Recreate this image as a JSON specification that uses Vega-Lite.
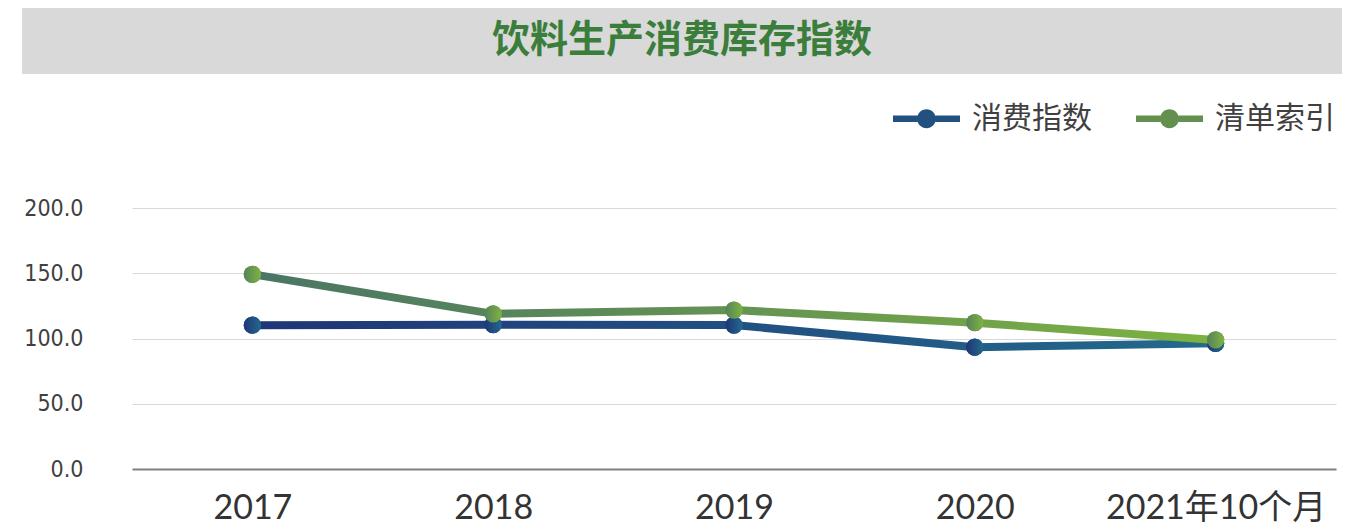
{
  "$schema": "https://vega.github.io/schema/vega-lite/v6.json",
  "background": "white",
  "padding": {"left": 22, "top": 8, "right": 0, "bottom": 0},
  "spacing": 123,
  "config": {"view": {"stroke": null}},
  "vconcat": [
    {
      "width": 1320,
      "height": 66,
      "view": {"fill": "#d9d9d9", "stroke": null},
      "data": {"values": [{"title": "饮料生产消费库存指数"}]},
      "mark": {"type": "text", "font": "Noto Sans CJK SC", "fontSize": 38, "fontWeight": "bold", "color": "#3b7d3b", "align": "center", "baseline": "middle"},
      "encoding": {"text": {"field": "title"}}
    },
    {
      "spacing": 0,
      "hconcat": [
        {
          "width": 1,
          "height": 1,
          "data": {"values": []},
          "mark": {"type": "point", "opacity": 0}
        },
        {
          "width": 1204,
          "height": 261,
          "data": {"values": [
            {"year": "2017", "series": "消费指数", "value": 110.2},
            {"year": "2018", "series": "消费指数", "value": 110.6},
            {"year": "2019", "series": "消费指数", "value": 110.3},
            {"year": "2020", "series": "消费指数", "value": 93.3},
            {"year": "2021年10个月", "series": "消费指数", "value": 96.3},
            {"year": "2017", "series": "清单索引", "value": 149.2},
            {"year": "2018", "series": "清单索引", "value": 118.9},
            {"year": "2019", "series": "清单索引", "value": 121.8},
            {"year": "2020", "series": "清单索引", "value": 112.1},
            {"year": "2021年10个月", "series": "清单索引", "value": 98.9}
          ]},
          "encoding": {
            "x": {"field": "year", "type": "ordinal", "sort": null, "scale": {"type": "point", "padding": 0.5},
              "axis": {"title": null, "labelAngle": 0, "ticks": false, "grid": false, "domainColor": "#808080", "domainWidth": 2, "labelFont": "Lato, 'Noto Sans CJK SC'", "labelFontSize": 34, "labelFontWeight": "normal", "labelColor": "#333333", "labelPadding": 22, "labelLimit": 400}},
            "y": {"field": "value", "type": "quantitative", "scale": {"domain": [0, 200], "nice": false},
              "axis": {"title": null, "values": [0, 50, 100, 150, 200], "format": ".1f", "domain": false, "ticks": false, "grid": true, "gridColor": "#d9d9d9", "gridWidth": 1, "labelFont": "'DejaVu Sans Condensed', 'Liberation Sans'", "labelFontSize": 23, "labelColor": "#404040", "labelPadding": 49}}
          },
          "layer": [
            {
              "mark": {"type": "point", "filled": true, "size": 300, "opacity": 1},
              "encoding": {
                "color": {"field": "series", "type": "nominal", "sort": null,
                  "scale": {"domain": ["消费指数", "清单索引"], "range": ["#22507f", "#63904f"]},
                  "legend": {"title": null, "orient": "none", "direction": "horizontal", "legendX": 871, "legendY": 77,
                    "symbolType": "M-1,-0.1 H-0.27 V0.1 H-1 Z M0.27,-0.1 H1 V0.1 H0.27 Z M-0.28,0 A0.28,0.28 0 1,1 0.28,0 A0.28,0.28 0 1,1 -0.28,0 Z",
                    "symbolSize": 4489, "symbolStrokeWidth": 0, "symbolOpacity": 1,
                    "labelFont": "Noto Sans CJK SC", "labelFontSize": 30, "labelColor": "#404040", "labelOffset": 12, "columnPadding": 44, "labelLimit": 300}}
              }
            },
            {
              "transform": [{"filter": "datum.series === '消费指数'"}],
              "mark": {"type": "line", "strokeWidth": 8, "stroke": {"gradient": "linear", "x1": 0, "y1": 0, "x2": 1, "y2": 0, "stops": [{"offset": 0, "color": "#1f3577"}, {"offset": 1, "color": "#236a8c"}]}}
            },
            {
              "transform": [{"filter": "datum.series === '消费指数'"}],
              "mark": {"type": "point", "filled": true, "size": 300, "opacity": 1, "fill": {"gradient": "linear", "x1": 0, "y1": 0, "x2": 1, "y2": 0, "stops": [{"offset": 0, "color": "#1f3577"}, {"offset": 1, "color": "#236a8c"}]}}
            },
            {
              "transform": [{"filter": "datum.series === '清单索引'"}],
              "mark": {"type": "line", "strokeWidth": 8, "stroke": {"gradient": "linear", "x1": 0, "y1": 0, "x2": 1, "y2": 0, "stops": [{"offset": 0, "color": "#4a7565"}, {"offset": 1, "color": "#7db241"}]}}
            },
            {
              "transform": [{"filter": "datum.series === '清单索引'"}],
              "mark": {"type": "point", "filled": true, "size": 300, "opacity": 1, "fill": {"gradient": "linear", "x1": 0, "y1": 0, "x2": 1, "y2": 0, "stops": [{"offset": 0, "color": "#55825a"}, {"offset": 1, "color": "#80b341"}]}}
            }
          ]
        }
      ]
    }
  ]
}
